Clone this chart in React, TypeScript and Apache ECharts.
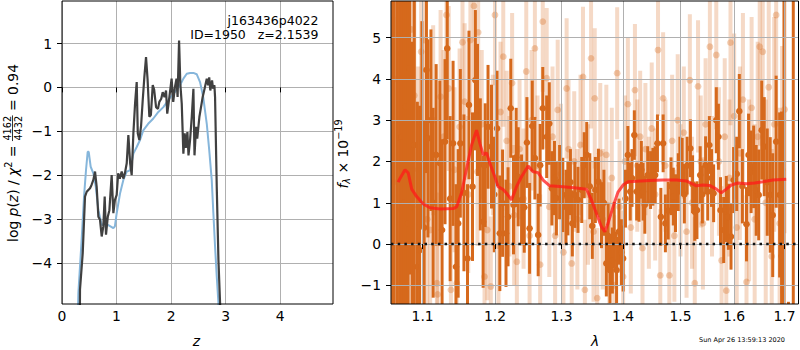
import React, { useEffect, useRef } from 'react';
import * as echarts from 'echarts';

const FONT = 'DejaVu Sans';

// ---------- left panel: log p(z) ----------
const zTicks = [0, 1, 2, 3, 4];
const logpTicks = [-4, -3, -2, -1, 0, 1];
const zRange = [0, 4.97];
const logpRange = [-4.94, 1.97];

// template-fit p(z) (light blue)
const templZ = [0.285, 0.30, 0.36, 0.404, 0.44, 0.471, 0.49, 0.526, 0.575, 0.62, 0.667, 0.73, 0.79, 0.85, 0.942, 0.97, 1.003, 1.064, 1.125, 1.187, 1.25, 1.309, 1.37, 1.431, 1.49, 1.58, 1.675, 1.767, 1.859, 1.98, 2.07, 2.165, 2.226, 2.288, 2.349, 2.41, 2.47, 2.532, 2.59, 2.655, 2.70, 2.746, 2.776, 2.807, 2.838, 2.869, 2.885];
const templLogp = [-5.5, -4.69, -3.48, -2.49, -1.89, -1.47, -1.47, -1.81, -1.96, -2.27, -2.80, -3.14, -3.10, -3.14, -3.21, -3.17, -2.87, -2.42, -2.11, -1.92, -1.89, -1.51, -1.36, -1.20, -0.98, -0.83, -0.71, -0.56, -0.45, -0.24, -0.11, 0.05, 0.20, 0.31, 0.33, 0.33, 0.30, 0.12, -0.22, -0.83, -1.43, -2.11, -2.87, -3.63, -4.31, -4.92, -5.5];

// redshift-fit p(z) (dark grey)
const photZ = [0.325, 0.33, 0.38, 0.422, 0.453, 0.514, 0.54, 0.575, 0.606, 0.636, 0.667, 0.697, 0.728, 0.758, 0.783, 0.807, 0.84, 0.869, 0.911, 0.942, 0.97, 1.003, 1.03, 1.06, 1.095, 1.125, 1.155, 1.187, 1.217, 1.25, 1.278, 1.309, 1.34, 1.37, 1.39, 1.419, 1.45, 1.48, 1.51, 1.541, 1.57, 1.602, 1.63, 1.664, 1.69, 1.725, 1.76, 1.785, 1.82, 1.847, 1.88, 1.908, 1.93, 1.969, 2.01, 2.04, 2.07, 2.10, 2.12, 2.147, 2.17, 2.196, 2.226, 2.25, 2.27, 2.30, 2.32, 2.349, 2.38, 2.41, 2.43, 2.459, 2.48, 2.52, 2.56, 2.58, 2.62, 2.655, 2.68, 2.70, 2.72, 2.752, 2.77, 2.795, 2.807, 2.838, 2.869, 2.9, 2.91];
const photLogp = [-6, -4.61, -3.78, -2.49, -2.38, -2.30, -2.23, -2.11, -1.92, -2.27, -2.95, -3.02, -3.40, -3.17, -2.49, -3.36, -2.95, -2.80, -2.0, -2.87, -2.57, -2.45, -1.96, -2.08, -1.92, -2.08, -1.95, -1.73, -1.09, -1.73, -2.0, -1.05, -0.37, 0.12, -1.05, -1.20, -0.88, -0.30, 0.23, 0.69, 0.17, -0.67, -0.63, 0.05, -0.05, -0.45, -0.49, -0.33, -0.26, -0.11, -0.22, -0.07, -0.60, -0.22, 0.20, -0.33, 0.0, 0.20, -0.22, 1.07, 0.08, -0.37, -1.51, -1.05, -1.38, -1.02, -1.55, -1.20, -0.67, -0.03, -1.55, -0.90, -1.17, -0.67, -0.37, -0.22, 0.0, 0.20, 0.05, 0.23, -0.07, 0.16, -0.03, 0.05, -0.22, -2.27, -3.93, -4.95, -6];

// ---------- right panel: spectrum ----------
const lamTicks = [1.1, 1.2, 1.3, 1.4, 1.5, 1.6, 1.7];
const fluxTicks = [-1, 0, 1, 2, 3, 4, 5];
const lamRange = [1.0589, 1.7288];
const fluxRange = [-1.453, 5.889];

const darkLam = [
  1.061, 1.063, 1.067, 1.070, 1.073, 1.076, 1.078, 1.081, 1.083, 1.086,
  1.089, 1.093, 1.096, 1.099, 1.102, 1.105, 1.107, 1.111, 1.114, 1.118,
  1.123, 1.126, 1.130, 1.133, 1.137, 1.141, 1.145, 1.148, 1.151, 1.156,
  1.161, 1.163, 1.168, 1.172, 1.175, 1.179, 1.183, 1.186, 1.190, 1.195,
  1.199, 1.203, 1.207, 1.211, 1.216, 1.219, 1.223, 1.227, 1.231, 1.234,
  1.239, 1.243, 1.247, 1.251, 1.255, 1.259, 1.264, 1.267, 1.271, 1.277,
  1.281, 1.285, 1.289, 1.292, 1.297, 1.302, 1.307, 1.310, 1.314, 1.317,
  1.321, 1.326, 1.332, 1.336, 1.340, 1.345, 1.349, 1.354, 1.359, 1.364,
  1.368, 1.372, 1.375, 1.378, 1.382, 1.385, 1.389, 1.393, 1.397, 1.400,
  1.404, 1.408, 1.412, 1.415, 1.419, 1.423, 1.427, 1.431, 1.434, 1.437,
  1.442, 1.447, 1.451, 1.455, 1.459, 1.465, 1.469, 1.473, 1.478, 1.483,
  1.487, 1.491, 1.496, 1.499, 1.503, 1.507, 1.512, 1.518, 1.522, 1.526,
  1.530, 1.536, 1.540, 1.546, 1.550, 1.553, 1.557, 1.561, 1.566, 1.570,
  1.574, 1.580, 1.585, 1.589, 1.594, 1.599, 1.605, 1.610, 1.616, 1.624,
  1.628, 1.633, 1.638, 1.643, 1.648, 1.654, 1.659, 1.665, 1.671, 1.676,
  1.683, 1.690, 1.694, 1.699, 1.708, 1.718,
];
const darkFlux = [
  7.0, -2.5, 6.5, 2.57, 2.6, 1.0, 3.33, 0.5, 4.26, 0.90,
  2.4, -0.55, -0.15, 2.9, 0.4, 4.22, 2.56, 3.0, 1.0, 2.16,
  1.96, 0.34, 2.48, 4.74, 1.1, 2.44, -0.55, 0.5, 2.44, 1.24,
  -0.35, 3.37, 1.39, 3.97, 3.25, 1.93, 0.54, 1.91, 2.84, 2.36,
  1.2, 2.80, 0.26, 0.99, 0.26, 0.66, 3.29, 0.95, 2.1, 1.63,
  1.07, 0.89, 2.46, 0.38, 2.86, 2.08, 0.22, 1.91, 3.29, 2.60,
  2.92, 1.35, 1.6, 1.11, 1.5, 1.19, 0.90, 1.11, 1.5, 0.50,
  1.19, 1.07, 1.31, 1.91, 2.16, 1.40, 0.44, 1.31, 1.51, 0.7,
  1.0, -0.47, 0.2, -0.63, -0.40, 0.22, -0.63, 0.3, -0.2, -0.35,
  1.1, 2.16, 1.27, 1.6, 2.64, 1.27, 1.24, 1.8, 1.27, 0.95,
  1.67, 1.55, 1.63, 1.67, 2.44, 0.66, 2.44, 0.50, 0.81, 1.40,
  1.15, 0.99, 1.5, 1.9, 1.87, 1.2, 1.9, 2.32, 1.45, 0.78,
  0.82, 1.67, 1.2, 1.91, 1.27, 2.40, 1.6, 1.23, 3.0, 2.60,
  0.82, 0.34, 0.85, 0.66, 0.18, 1.55, 1.7, 3.22, 1.4, 0.48,
  2.16, 1.75, 1.87, 1.3, 1.19, 2.76, 2.36, 1.5, 1.19, 0.70,
  2.48, 1.19, -0.29, 6.5, -3.2, 7.0,
];
const darkErr = [
  9, 9, 8, 7, 6, 8, 5, 6, 5, 4,
  4.5, 4, 3.5, 2.5, 2.6, 2.5, 2.4, 2.2, 2.3, 2.2,
  2.0, 2.2, 2.0, 2.2, 2.0, 2.0, 2.0, 1.8, 1.8, 1.9,
  1.8, 1.8, 1.8, 1.7, 1.6, 1.6, 1.6, 1.5, 1.5, 1.5,
  1.4, 1.4, 1.4, 1.3, 1.3, 1.2, 1.2, 1.2, 1.2, 1.2,
  1.1, 1.1, 1.1, 1.1, 1.1, 1.0, 1.0, 1.0, 1.0, 1.0,
  1.0, 0.9, 0.9, 0.9, 0.9, 0.9, 0.9, 0.9, 0.8, 0.8,
  0.8, 0.8, 0.8, 0.8, 0.8, 0.8, 0.8, 0.8, 0.8, 0.8,
  0.8, 0.8, 0.8, 0.8, 0.8, 0.8, 0.8, 0.8, 0.8, 0.8,
  0.7, 0.7, 0.7, 0.7, 0.6, 0.7, 0.7, 0.7, 0.7, 0.7,
  0.7, 0.7, 0.7, 0.7, 0.7, 0.7, 0.7, 0.7, 0.7, 0.7,
  0.7, 0.7, 0.7, 0.7, 0.7, 0.7, 0.7, 0.7, 0.7, 0.7,
  0.7, 0.7, 0.7, 0.7, 0.7, 0.7, 0.7, 0.7, 0.8, 0.8,
  0.8, 0.8, 0.8, 0.8, 0.8, 0.8, 0.9, 0.9, 0.9, 0.9,
  1.0, 1.0, 1.0, 1.1, 1.1, 1.2, 1.2, 1.3, 1.4, 1.5,
  1.6, 2.0, 3.5, 9, 1.8, 9,
];

const lightLam = [
  1.062, 1.066, 1.070, 1.072, 1.076, 1.080, 1.085, 1.089, 1.094, 1.098,
  1.102, 1.106, 1.110, 1.114, 1.119, 1.120, 1.124, 1.128, 1.132, 1.135,
  1.138, 1.143, 1.146, 1.150, 1.154, 1.157, 1.162, 1.165, 1.170, 1.175,
  1.176, 1.181, 1.185, 1.189, 1.194, 1.197, 1.200, 1.205, 1.208, 1.212,
  1.217, 1.221, 1.225, 1.228, 1.232, 1.236, 1.242, 1.246, 1.251, 1.254,
  1.259, 1.263, 1.267, 1.271, 1.277, 1.281, 1.286, 1.290, 1.294, 1.299,
  1.303, 1.308, 1.311, 1.316, 1.320, 1.325, 1.330, 1.334, 1.337, 1.342,
  1.347, 1.351, 1.353, 1.357, 1.362, 1.366, 1.372, 1.377, 1.381, 1.385,
  1.390, 1.394, 1.400, 1.403, 1.408, 1.413, 1.420, 1.424, 1.429, 1.433,
  1.438, 1.444, 1.449, 1.455, 1.460, 1.464, 1.469, 1.473, 1.480, 1.485,
  1.489, 1.495, 1.500, 1.506, 1.511, 1.517, 1.521, 1.526, 1.532, 1.537,
  1.541, 1.546, 1.554, 1.558, 1.566, 1.571, 1.576, 1.582, 1.585, 1.591,
  1.593, 1.600, 1.605, 1.611, 1.617, 1.624, 1.629, 1.634, 1.640, 1.646,
  1.650, 1.656, 1.662, 1.668, 1.674, 1.679, 1.683, 1.690, 1.695, 1.700,
];
const lightFlux = [
  1.5, 4.0, 4.62, 0.82, 2.9, 3.57, 5.2, 3.6, 1.8, 4.66,
  4.94, 0.6, 0.34, 3.0, -0.95, -1.22, 3.57, 2.6, 5.55, 3.77,
  -1.11, 1.8, -0.95, 2.84, 4.89, 3.45, 1.2, 4.94, 5.77, 1.75,
  5.13, 2.9, -0.79, 0.34, -1.03, 2.4, 5.55, -0.04, 3.2, 4.54,
  2.5, 1.4, 3.9, 0.7, -0.43, 2.3, 1.1, 4.18, 0.2, 3.0,
  4.74, 1.9, -0.5, 5.39, 4.02, 0.9, 2.6, 0.2, 3.25, 1.7,
  -0.2, 3.77, 2.3, -0.47, 2.0, 0.6, 2.4, 4.05, -1.11, 1.2,
  4.50, 0.3, 3.53, -1.31, 2.2, 0.6, 2.16, -0.2, 1.6, -1.0,
  4.14, 0.9, -0.79, 2.0, 3.39, 0.4, 3.73, 1.9, 2.6, -0.1,
  2.3, 1.0, 2.8, 1.2, 4.70, -0.76, 3.53, 1.9, -0.76, 2.5,
  0.2, 3.0, 1.3, 2.7, 0.3, 3.97, 1.0, -0.95, 3.82, 2.0,
  0.5, 2.9, 4.78, 1.4, 4.58, 2.0, -0.4, 2.6, -1.13, 1.6,
  4.88, 3.1, 0.4, 2.2, 3.5, -0.92, 1.3, 3.3, 0.6, 2.6,
  4.78, 4.66, 1.0, 3.8, -0.3, 2.9, 5.55, 0.5, 1.8, 3.26,
];
const lightErr = [
  4, 3, 2.8, 3, 2.8, 2.6, 2.6, 2.5, 2.5, 2.4,
  2.4, 2.4, 2.3, 2.3, 2.2, 2.2, 2.1, 2.1, 2.0, 2.0,
  2.0, 2.0, 2.0, 1.9, 1.9, 1.9, 1.9, 1.8, 1.8, 1.8,
  1.8, 1.8, 1.8, 1.7, 1.7, 1.7, 1.7, 1.7, 1.7, 1.7,
  1.7, 1.7, 1.7, 1.7, 1.7, 1.7, 1.7, 1.7, 1.7, 1.7,
  1.7, 1.7, 1.7, 1.7, 1.7, 1.7, 1.7, 1.7, 1.7, 1.7,
  1.7, 1.7, 1.7, 1.7, 1.7, 1.7, 1.7, 1.7, 1.7, 1.7,
  1.7, 1.7, 1.7, 1.7, 1.7, 1.7, 1.7, 1.7, 1.7, 1.7,
  1.6, 1.6, 1.6, 1.6, 1.6, 1.6, 1.6, 1.6, 1.6, 1.6,
  1.6, 1.6, 1.6, 1.6, 1.6, 1.6, 1.6, 1.6, 1.6, 1.6,
  1.6, 1.6, 1.6, 1.6, 1.6, 1.6, 1.6, 1.6, 1.6, 1.6,
  1.6, 1.6, 1.7, 1.7, 1.8, 1.8, 1.8, 1.9, 1.9, 1.9,
  2.0, 2.0, 2.0, 2.1, 2.1, 2.1, 2.2, 2.2, 2.3, 2.3,
  2.4, 2.4, 2.5, 2.5, 2.6, 2.6, 2.7, 2.8, 3.0, 3.0,
];

const modelLam = [1.068, 1.0704, 1.0769, 1.0811, 1.0856, 1.0921, 1.1008, 1.1097, 1.1231, 1.1412, 1.1459, 1.1528, 1.1597, 1.1667, 1.1737, 1.1784, 1.1831, 1.1879, 1.1926, 1.1998, 1.2046, 1.2119, 1.2168, 1.2241, 1.2315, 1.2389, 1.2488, 1.2563, 1.2639, 1.2715, 1.2818, 1.3024, 1.3236, 1.3396, 1.3476, 1.3558, 1.3639, 1.3694, 1.3748, 1.3831, 1.3914, 1.3998, 1.4082, 1.4225, 1.4454, 1.4687, 1.4926, 1.5106, 1.5197, 1.5289, 1.5411, 1.5535, 1.5661, 1.5755, 1.5850, 1.5946, 1.6073, 1.6236, 1.6398, 1.6563, 1.6763, 1.7034];
const modelFlux = [1.50, 1.59, 1.80, 1.72, 1.33, 1.15, 0.97, 0.88, 0.85, 0.86, 0.90, 1.25, 1.83, 2.40, 2.76, 2.44, 2.16, 2.21, 1.96, 1.63, 1.39, 1.32, 1.23, 1.07, 1.39, 1.63, 1.89, 1.75, 1.73, 1.55, 1.41, 1.39, 1.36, 1.33, 1.07, 0.74, 0.42, 0.30, 0.50, 0.90, 1.26, 1.43, 1.51, 1.52, 1.54, 1.55, 1.55, 1.53, 1.47, 1.41, 1.43, 1.42, 1.33, 1.24, 1.33, 1.43, 1.48, 1.46, 1.48, 1.51, 1.55, 1.57];

const zeroLevel = 0;

const DARK = '#d6691c';
const LIGHT_BAR = 'rgba(214,105,28,0.25)';
const LIGHT_DOT = 'rgba(214,105,28,0.32)';

function textWidth(s: string, size: number, italic = false): number {
  const c = document.createElement('canvas').getContext('2d');
  if (!c) return s.length * size * 0.6;
  c.font = `${italic ? 'italic ' : ''}${size}px "${FONT}"`;
  return c.measureText(s).width;
}

type Piece = { t?: string; s: number; it?: boolean; dy?: number; frac?: [string, string] };

function rotatedLabel(pieces: Piece[], cx: number, cy: number) {
  const children: any[] = [];
  let x = 0;
  for (const p of pieces) {
    if (p.frac) {
      const w = Math.max(textWidth(p.frac[0], p.s), textWidth(p.frac[1], p.s)) + 1;
      children.push({ type: 'text', x: x + w / 2, y: -6, style: { text: p.frac[0], fontSize: p.s, fontFamily: FONT, fill: '#000', align: 'center', verticalAlign: 'middle' } });
      children.push({ type: 'text', x: x + w / 2, y: 5.5, style: { text: p.frac[1], fontSize: p.s, fontFamily: FONT, fill: '#000', align: 'center', verticalAlign: 'middle' } });
      children.push({ type: 'line', shape: { x1: x, y1: -0.5, x2: x + w, y2: -0.5 }, style: { stroke: '#000', lineWidth: 0.8 } });
      x += w;
      continue;
    }
    const t = p.t || '';
    const w = textWidth(t, p.s, !!p.it);
    children.push({
      type: 'text', x, y: p.dy || 0,
      style: { text: t, fontSize: p.s, fontStyle: p.it ? 'italic' : 'normal', fontFamily: FONT, fill: '#000', align: 'left', verticalAlign: 'middle' },
    });
    x += w;
  }
  return { type: 'group', x: cx, y: cy + x / 2, rotation: Math.PI / 2, children };
}

const minus = (v: number) => String(Math.round(v * 100) / 100).replace('-', '\u2212');

function errRender(barW: number, r: number, barColor: string, dotColor: string) {
  return (params: any, api: any) => {
    const x = api.value(0), y = api.value(1), e = api.value(2);
    const p = api.coord([x, y]);
    const t = api.coord([x, y + e]);
    const b = api.coord([x, y - e]);
    return {
      type: 'group',
      children: [
        { type: 'rect', shape: { x: p[0] - barW / 2, y: t[1], width: barW, height: b[1] - t[1] }, style: { fill: barColor } },
        { type: 'circle', shape: { cx: p[0], cy: p[1], r }, style: { fill: dotColor } },
      ],
    };
  };
}

export default function App() {
  const ref = useRef<HTMLDivElement>(null);
  useEffect(() => {
    if (!ref.current) return;
    const chart = echarts.init(ref.current, undefined, { renderer: 'svg' });
    const tickFont = { fontSize: 13.9, color: '#000', fontFamily: FONT };
    const gridLine = { show: true, lineStyle: { color: '#b0b0b0', width: 1 } };
    const tick = (vals: number[]) => ({ show: true, length: 5, customValues: vals, lineStyle: { color: '#000', width: 1 } });
    const lamTickVals = lamTicks.map((v) => Math.log(v));
    const idW = textWidth('z=2.1539', 12.5) + textWidth('   ', 12.5);

    const option: any = {
      animation: false,
      textStyle: { fontFamily: FONT },
      grid: [
        { left: 62, top: 1, width: 271, height: 303, show: true, borderColor: '#000', borderWidth: 1, backgroundColor: 'transparent', z: 10 },
        { left: 391, top: 1, width: 407.5, height: 303, show: true, borderColor: '#000', borderWidth: 1, backgroundColor: 'transparent', z: 10 },
      ],
      xAxis: [
        {
          type: 'value', gridIndex: 0, min: zRange[0], max: zRange[1],
          axisLine: { show: false }, axisTick: tick(zTicks),
          axisLabel: { ...tickFont, customValues: zTicks, margin: 5, formatter: minus },
          splitLine: gridLine,
        },
        {
          type: 'value', gridIndex: 1, min: Math.log(lamRange[0]), max: Math.log(lamRange[1]), z: 5,
          axisLine: { show: false }, axisTick: tick(lamTickVals),
          axisLabel: { ...tickFont, customValues: lamTickVals, margin: 5, formatter: (v: number) => Math.exp(v).toFixed(1) },
          splitLine: gridLine,
        },
      ],
      yAxis: [
        {
          type: 'value', gridIndex: 0, min: logpRange[0], max: logpRange[1],
          axisLine: { show: false }, axisTick: tick(logpTicks),
          axisLabel: { ...tickFont, customValues: logpTicks, margin: 10, formatter: minus },
          splitLine: gridLine,
        },
        {
          type: 'value', gridIndex: 1, min: fluxRange[0], max: fluxRange[1], z: 5,
          axisLine: { show: false }, axisTick: tick(fluxTicks),
          axisLabel: { ...tickFont, customValues: fluxTicks, margin: 10, formatter: minus },
          splitLine: gridLine,
        },
      ],
      series: [
        {
          type: 'line', xAxisIndex: 0, yAxisIndex: 0, symbol: 'none', clip: true, z: 2,
          data: templZ.map((z, i) => [z, templLogp[i]]),
          lineStyle: { color: '#86b6db', width: 2 },
        },
        {
          type: 'line', xAxisIndex: 0, yAxisIndex: 0, symbol: 'none', clip: true, z: 3,
          data: photZ.map((z, i) => [z, photLogp[i]]),
          lineStyle: { color: '#404040', width: 2.2 },
        },
        {
          type: 'custom', xAxisIndex: 1, yAxisIndex: 1, clip: true, z: 2,
          dimensions: ['x', 'y', 'e'], encode: { x: 0, y: 1 },
          data: lightLam.map((l, i) => [Math.log(l), lightFlux[i], lightErr[i]]),
          renderItem: errRender(4, 3.4, LIGHT_BAR, LIGHT_DOT),
        },
        {
          type: 'custom', xAxisIndex: 1, yAxisIndex: 1, clip: true, z: 3,
          dimensions: ['x', 'y', 'e'], encode: { x: 0, y: 1 },
          data: darkLam.map((l, i) => [Math.log(l), darkFlux[i], darkErr[i]]),
          renderItem: errRender(3, 3.3, DARK, DARK),
        },
        {
          type: 'line', xAxisIndex: 1, yAxisIndex: 1, symbol: 'none', clip: true, z: 6,
          data: modelLam.map((l, i) => [Math.log(l), modelFlux[i]]),
          lineStyle: { color: 'rgba(255,25,25,0.75)', width: 3 },
        },
        {
          type: 'line', xAxisIndex: 1, yAxisIndex: 1, symbol: 'none', clip: true, z: 7,
          data: [[Math.log(lamRange[0]), zeroLevel], [Math.log(lamRange[1]), zeroLevel]],
          lineStyle: { color: '#111', width: 2.5, type: [2.5, 4.2] },
        },
      ],
      graphic: {
        elements: [
          rotatedLabel([
            { t: 'log ', s: 13.9 }, { t: 'p', s: 13.9, it: true }, { t: '(', s: 13.9 }, { t: 'z', s: 13.9, it: true },
            { t: ') / ', s: 13.9 }, { t: 'χ', s: 13.9, it: true }, { t: '2', s: 9.7, dy: -5 }, { t: ' = ', s: 13.9 },
            { frac: ['4162', '4432'], s: 9.7 }, { t: ' = 0.94', s: 13.9 },
          ], 13, 153),
          rotatedLabel([
            { t: 'f', s: 13.9, it: true }, { t: 'λ', s: 9.7, it: true, dy: 3.5 }, { t: ' × 10', s: 13.9 }, { t: '−19', s: 9.7, dy: -5 },
          ], 343, 154),
          { type: 'text', x: 196.5, y: 340.5, style: { text: 'z', fontSize: 13.9, fontStyle: 'italic', fontFamily: FONT, fill: '#000', align: 'center', verticalAlign: 'middle' } },
          { type: 'text', x: 595, y: 340.5, style: { text: 'λ', fontSize: 13.9, fontStyle: 'italic', fontFamily: FONT, fill: '#000', align: 'center', verticalAlign: 'middle' } },
          { type: 'text', x: 318.5, y: 20, z: 20, style: { text: 'j163436p4022', fontSize: 12.5, fontFamily: FONT, fill: '#000', align: 'right', verticalAlign: 'middle' } },
          { type: 'text', x: 318.5 - idW, y: 34.5, z: 20, style: { text: 'ID=1950', fontSize: 12.5, fontFamily: FONT, fill: '#000', align: 'right', verticalAlign: 'middle' } },
          { type: 'text', x: 318.5, y: 34.5, z: 20, style: { text: 'z=2.1539', fontSize: 12.5, fontFamily: FONT, fill: '#000', align: 'right', verticalAlign: 'middle' } },
          { type: 'text', x: 742, y: 339.5, style: { text: 'Sun Apr 26 13:59:13 2020', fontSize: 6.5, fontFamily: FONT, fill: '#000', align: 'center', verticalAlign: 'middle' } },
        ],
      },
    };
    chart.setOption(option);
    return () => chart.dispose();
  }, []);
  return <div ref={ref} style={{ position: 'fixed', left: 0, top: 0, width: 800, height: 350, background: '#fff' }} />;
}
